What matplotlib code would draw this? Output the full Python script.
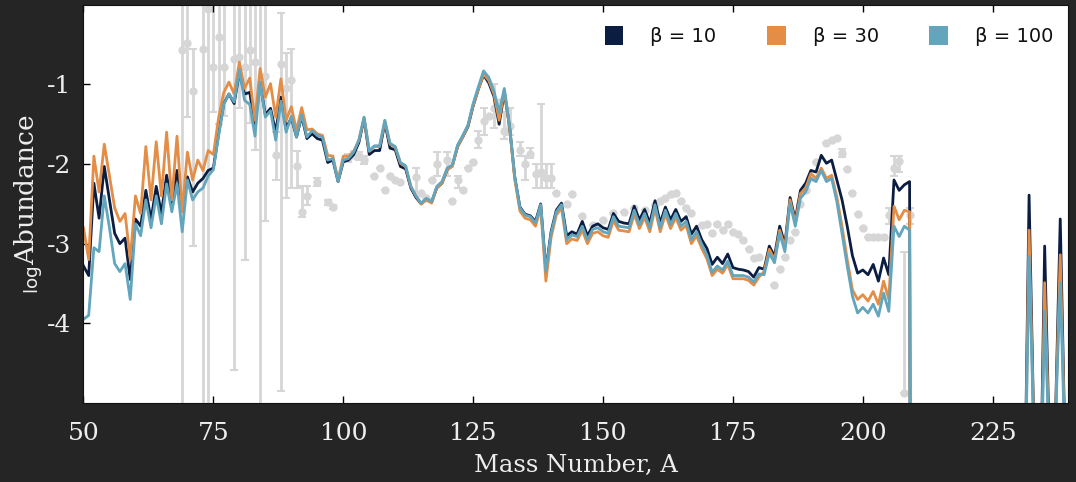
import numpy as np
import matplotlib
matplotlib.use("Agg")
import matplotlib.pyplot as plt
from matplotlib.patches import Patch

plt.rcParams["axes.unicode_minus"] = False
plt.rcParams["mathtext.fontset"] = "dejavuserif"

# model abundances, A = 50..210 (210 drops off the chart)
mass = list(range(50, 211))
beta10 = [
    -3.28, -3.40, -2.24, -2.68, -2.03, -2.45, -2.87, -3.00, -2.93, -3.45,
    -2.69, -2.78, -2.33, -2.70, -2.28, -2.62, -2.14, -2.50, -2.08, -2.53,
    -2.16, -2.35, -2.24, -2.18, -2.08, -2.05, -1.62, -1.24, -1.12, -1.24,
    -0.85, -1.12, -1.10, -1.50, -0.98, -1.38, -1.30, -1.60, -1.16, -1.55,
    -1.42, -1.66, -1.40, -1.68, -1.62, -1.68, -1.70, -1.98, -1.95, -2.22,
    -1.97, -1.95, -1.88, -1.73, -1.43, -1.88, -1.83, -1.83, -1.48, -1.80,
    -1.82, -2.03, -2.06, -2.30, -2.42, -2.50, -2.44, -2.48, -2.30, -2.24,
    -2.07, -2.02, -1.78, -1.66, -1.53, -1.27, -1.06, -0.88, -0.98, -1.15,
    -1.50, -1.10, -1.53, -2.16, -2.54, -2.63, -2.65, -2.72, -2.50, -3.33,
    -2.85, -2.58, -2.49, -2.90, -2.85, -2.88, -2.72, -2.90, -2.78, -2.75,
    -2.80, -2.82, -2.62, -2.72, -2.74, -2.75, -2.53, -2.70, -2.57, -2.74,
    -2.46, -2.74, -2.54, -2.70, -2.57, -2.72, -2.66, -2.88, -2.78, -2.95,
    -3.06, -3.26, -3.17, -3.25, -3.13, -3.30, -3.32, -3.33, -3.35, -3.42,
    -3.30, -3.32, -3.03, -3.16, -2.78, -3.01, -2.42, -2.70, -2.33, -2.24,
    -2.08, -2.10, -1.89, -1.99, -1.95, -2.20, -2.45, -2.78, -3.15, -3.37,
    -3.33, -3.39, -3.26, -3.47, -3.18, -3.39, -2.20, -2.33, -2.26, -2.22,
    -30.0,
]
beta30 = [
    -2.80, -3.20, -1.90, -2.35, -1.75, -2.15, -2.55, -2.72, -2.62, -3.20,
    -2.40, -2.62, -1.78, -2.45, -1.72, -2.40, -1.60, -2.45, -1.65, -2.60,
    -1.85, -2.20, -1.95, -2.08, -1.83, -1.88, -1.42, -1.10, -0.97, -1.12,
    -0.72, -1.05, -0.92, -1.45, -0.80, -1.16, -0.99, -1.41, -0.93, -1.45,
    -1.28, -1.58, -1.29, -1.57, -1.56, -1.62, -1.64, -1.89, -1.90, -2.20,
    -1.90, -1.90, -1.84, -1.70, -1.42, -1.84, -1.78, -1.78, -1.46, -1.75,
    -1.79, -1.99, -2.03, -2.28, -2.40, -2.50, -2.45, -2.49, -2.30, -2.24,
    -2.07, -2.03, -1.78, -1.66, -1.52, -1.26, -1.06, -0.87, -0.95, -1.12,
    -1.45, -1.08, -1.53, -2.19, -2.59, -2.68, -2.70, -2.78, -2.55, -3.47,
    -2.92, -2.64, -2.55, -3.00, -2.94, -2.96, -2.83, -3.00, -2.87, -2.85,
    -2.90, -2.92, -2.71, -2.83, -2.84, -2.85, -2.63, -2.81, -2.67, -2.85,
    -2.56, -2.85, -2.63, -2.81, -2.67, -2.83, -2.77, -3.00, -2.90, -3.06,
    -3.19, -3.40, -3.32, -3.37, -3.26, -3.44, -3.44, -3.44, -3.46, -3.52,
    -3.42, -3.35, -3.07, -3.20, -2.83, -3.05, -2.45, -2.74, -2.37, -2.30,
    -2.12, -2.18, -2.05, -2.18, -2.14, -2.41, -2.78, -3.20, -3.58, -3.70,
    -3.64, -3.72, -3.60, -3.76, -3.47, -3.70, -2.53, -2.70, -2.58, -2.60,
    -30.0,
]
beta100 = [
    -3.95, -3.90, -3.05, -3.10, -2.40, -2.80, -3.25, -3.35, -3.25, -3.70,
    -2.75, -2.90, -2.45, -2.80, -2.40, -2.75, -2.25, -2.60, -2.25, -2.85,
    -2.20, -2.45, -2.35, -2.30, -2.15, -2.07, -1.65, -1.25, -1.12, -1.22,
    -0.82, -1.20, -1.25, -1.65, -0.97, -1.41, -1.33, -1.70, -1.21, -1.60,
    -1.40, -1.66, -1.38, -1.66, -1.58, -1.64, -1.66, -1.95, -1.93, -2.22,
    -1.95, -1.93, -1.85, -1.70, -1.41, -1.83, -1.77, -1.77, -1.45, -1.74,
    -1.78, -1.98, -2.02, -2.28, -2.40, -2.49, -2.43, -2.47, -2.28, -2.22,
    -2.05, -2.01, -1.76, -1.64, -1.51, -1.24, -1.03, -0.83, -0.91, -1.08,
    -1.35, -1.05, -1.51, -2.16, -2.55, -2.64, -2.66, -2.74, -2.51, -3.35,
    -2.87, -2.60, -2.51, -2.95, -2.89, -2.91, -2.78, -2.95, -2.82, -2.80,
    -2.85, -2.87, -2.66, -2.78, -2.79, -2.80, -2.58, -2.76, -2.62, -2.80,
    -2.51, -2.80, -2.58, -2.76, -2.62, -2.78, -2.72, -2.95, -2.85, -3.01,
    -3.14, -3.36, -3.28, -3.33, -3.22, -3.40, -3.40, -3.40, -3.42, -3.48,
    -3.38, -3.39, -3.12, -3.24, -2.87, -3.10, -2.49, -2.78, -2.43, -2.35,
    -2.18, -2.22, -2.08, -2.22, -2.18, -2.47, -2.87, -3.28, -3.66, -3.87,
    -3.80, -3.87, -3.76, -3.91, -3.62, -3.85, -2.78, -2.91, -2.78, -2.83,
    -30.0,
]

# actinide spikes, A = 231..240
mass_act = list(range(231, 241))
beta10_act = [-7.0, -2.39, -5.6, -7.0, -3.03, -5.8, -5.4, -2.69, -5.8, -7.0]
beta30_act = [-7.0, -2.83, -5.6, -7.0, -3.49, -5.8, -5.4, -3.14, -5.8, -7.0]
beta100_act = [-7.0, -3.16, -5.6, -7.0, -3.85, -5.8, -5.4, -3.49, -5.8, -7.0]

# observed abundances (grey) with error bar ends
obs_a = [69, 70, 71, 73, 74, 75, 76, 77, 79, 80, 81, 82, 83, 84, 85, 87, 88, 89, 90,
         91, 92, 93, 95, 97, 98, 101, 102, 103, 104, 106, 107, 108, 109, 110, 111,
         114, 115, 116, 117, 118, 120, 121, 122, 123, 124, 125, 126, 127, 128, 129,
         130, 131, 132, 134, 135, 136, 137, 138, 139, 140, 141, 143, 144, 146, 148,
         150, 152, 154, 156, 158, 160, 161, 162, 163, 164, 165, 166, 167, 169, 170,
         171, 172, 173, 174, 175, 176, 177, 178, 179, 180, 183, 184, 185, 186, 187,
         188, 189, 190, 191, 193, 194, 195, 196, 197, 198, 199, 200, 201, 202, 203,
         204, 205, 206, 207, 208, 209]
obs_y = [-0.57, -0.48, -1.08, -0.56, -0.05, -0.78, -0.41, -0.78, -0.68, -0.66, -0.78,
         -0.57, -0.72, 0.3, -0.89, -1.89, -0.74, -1.05, -0.95,
         -2.03, -2.60, -2.40, -2.23, -2.48, -2.54, -1.92, -1.88, -1.90, -1.95, -2.15,
         -2.05, -2.33, -2.15, -2.20, -2.22,
         -2.16, -2.36, -2.42, -2.20, -2.00, -1.95, -2.47, -2.20, -2.32, -2.05, -1.98,
         -1.70, -1.46, -1.40, -1.30,
         -1.22, -1.58, -1.52, -1.82, -2.00, -1.87, -2.12, -2.10, -2.17, -2.17, -2.36,
         -2.50, -2.38, -2.65, -2.76,
         -2.70, -2.62, -2.60, -2.55, -2.58, -2.52, -2.47, -2.42, -2.38, -2.36, -2.46,
         -2.55, -2.62, -2.76, -2.75,
         -2.86, -2.75, -2.83, -2.75, -2.85, -2.88, -2.95, -3.07, -3.18, -3.17, -3.52,
         -3.32, -3.17, -2.95, -2.85,
         -2.50, -2.33, -2.16, -1.97, -1.74, -1.70, -1.67, -1.86, -2.06, -2.36, -2.63,
         -2.80, -2.92, -2.92, -2.92,
         -2.92, -2.64, -2.05, -1.96, -4.88, -2.64]
obs_lo = [-6.0, -1.41, -3.03, -6.0, -6.0, -1.35, -1.5, -1.4, -4.58, -1.3, -3.2,
          -1.48, -1.82, -6.0, -2.72, -2.20, -4.85, -2.43, -2.30,
          -2.30, -2.67, -2.52, -2.28, -2.51, -2.57, -1.97, -1.93, -1.95, -2.00, -2.15,
          -2.05, -2.33, -2.15, -2.20, -2.22,
          -2.35, -2.36, -2.42, -2.20, -2.15, -2.15, -2.47, -2.30, -2.32, -2.05, -1.98,
          -1.80, -1.63, -1.40, -1.55,
          -1.22, -1.68, -1.63, -1.90, -2.20, -1.92, -2.30, -2.30, -2.30, -2.30, -2.36,
          -2.50, -2.38, -2.65, -2.76,
          -2.70, -2.62, -2.60, -2.55, -2.58, -2.52, -2.47, -2.42, -2.38, -2.36, -2.46,
          -2.55, -2.62, -2.76, -2.75,
          -2.86, -2.75, -2.83, -2.75, -2.85, -2.88, -2.95, -3.07, -3.18, -3.17, -3.52,
          -3.32, -3.17, -2.95, -2.85,
          -2.50, -2.33, -2.16, -1.97, -1.74, -1.70, -1.67, -1.91, -2.06, -2.36, -2.63,
          -2.80, -2.92, -2.92, -2.92,
          -2.92, -2.75, -2.15, -2.10, -4.88, -2.75]
obs_hi = [0.5, 0.5, -0.55, 0.5, 0.5, 0.5, 0.5, 0.5, 0.5, 0.5, 0.5,
          0.0, 0.5, 0.5, 0.0, -1.60, -0.10, -0.60, -0.55,
          -1.83, -2.27, -2.27, -2.18, -2.45, -2.51, -1.87, -1.83, -1.85, -1.90, -2.15,
          -2.05, -2.33, -2.15, -2.20, -2.22,
          -2.05, -2.36, -2.42, -2.20, -1.85, -1.85, -2.47, -2.15, -2.32, -2.05, -1.98,
          -1.58, -1.30, -1.40, -1.00,
          -1.22, -1.35, -1.30, -1.72, -1.90, -1.80, -2.00, -1.25, -2.00, -2.00, -2.36,
          -2.50, -2.38, -2.65, -2.76,
          -2.70, -2.62, -2.60, -2.55, -2.58, -2.52, -2.47, -2.42, -2.38, -2.36, -2.46,
          -2.55, -2.62, -2.76, -2.75,
          -2.86, -2.75, -2.83, -2.75, -2.85, -2.88, -2.95, -3.07, -3.18, -3.17, -3.52,
          -3.32, -3.17, -2.95, -2.85,
          -2.50, -2.33, -2.16, -1.97, -1.74, -1.70, -1.67, -1.81, -2.06, -2.36, -2.63,
          -2.80, -2.92, -2.92, -2.92,
          -2.92, -2.55, -1.90, -1.90, -3.10, -2.55]

labels = ["β = 10", "β = 30", "β = 100"]
colors = ["#0c1d42", "#e38d46", "#62a5bc"]
bg = "#252525"

fig = plt.figure(figsize=(10.76, 4.82), dpi=100, facecolor=bg)
ax = fig.add_axes([0.0776, 0.164, 0.915, 0.826])
ax.set_facecolor("white")

oy = np.array(obs_y)
yerr = [oy - np.array(obs_lo), np.array(obs_hi) - oy]
ax.errorbar(obs_a, oy, yerr=yerr, fmt="o", color="#d6d6d6", ms=5,
            elinewidth=2, capsize=3, capthick=1.5, zorder=1)

for ys, ys_act, c in zip([beta10, beta30, beta100],
                         [beta10_act, beta30_act, beta100_act], colors):
    ax.plot(mass, ys, color=c, lw=2.0, zorder=2)
    ax.plot(mass_act, ys_act, color=c, lw=2.0, zorder=2)

ax.set_xlim(50, 239.5)
ax.set_ylim(-5, 0)
ax.set_xticks([50, 75, 100, 125, 150, 175, 200, 225])
ax.set_yticks([-1, -2, -3, -4])
ax.tick_params(direction="in", top=True, length=5, width=1, color="black",
               labelcolor="#eeeeee", labelsize=18)
ax.tick_params(axis="x", pad=14)
ax.tick_params(axis="y", pad=9)
for lab in ax.get_xticklabels() + ax.get_yticklabels():
    lab.set_family("DejaVu Serif")
for s in ax.spines.values():
    s.set_color("#111111")

ax.set_xlabel("Mass Number, A", family="DejaVu Serif", fontsize=17.5,
              color="#eeeeee", labelpad=6)
ax.set_ylabel(r"$_{\mathsf{log}}$Abundance", family="DejaVu Serif", fontsize=19,
              color="#eeeeee", labelpad=2)

handles = [Patch(facecolor=c, edgecolor="none") for c in colors]
ax.legend(handles, labels, loc="upper right", bbox_to_anchor=(1.007, 1.0),
          ncol=3, frameon=False, fontsize=14, handlelength=0.95,
          handleheight=1.1, handletextpad=1.4, columnspacing=2.6,
          borderaxespad=0.7, labelcolor="#111111")

fig.savefig("out.png", dpi=100, facecolor=bg)
